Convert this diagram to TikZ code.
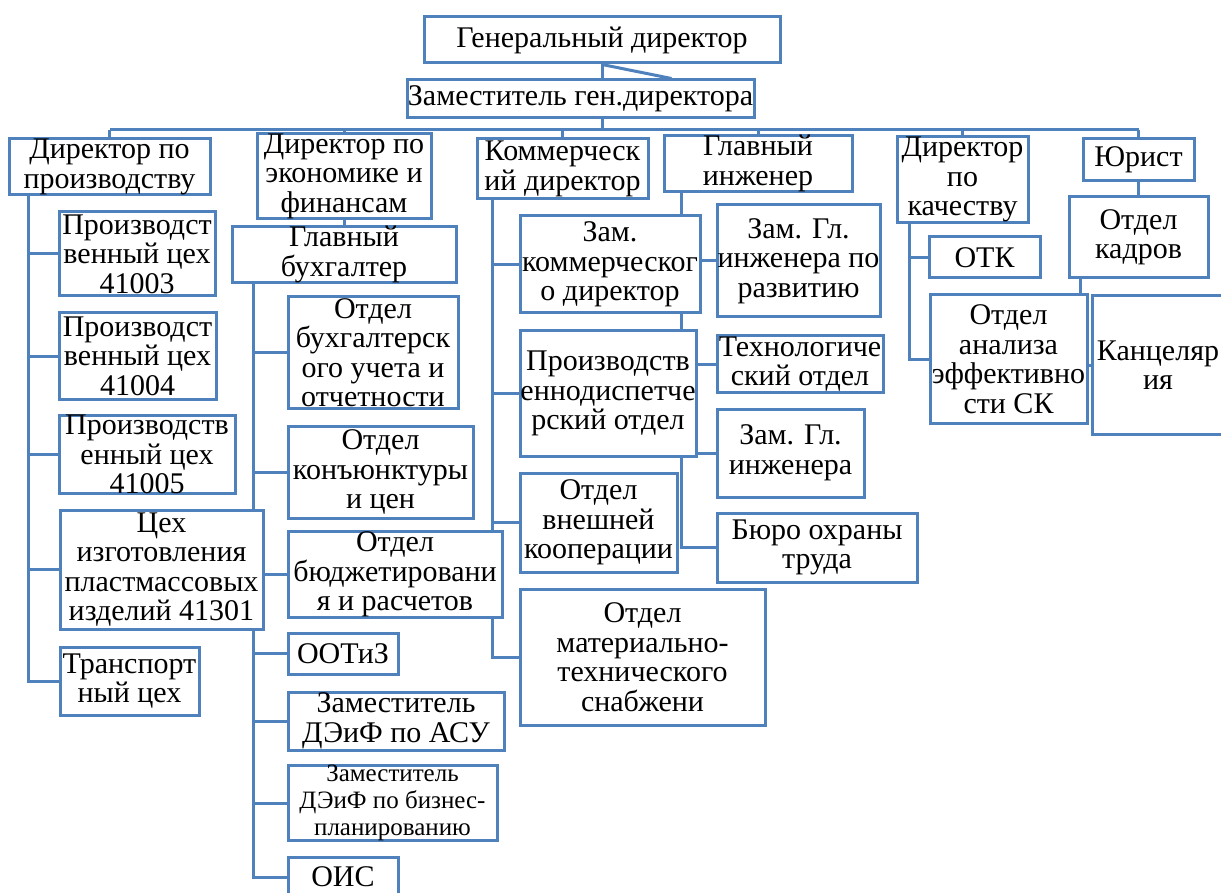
\documentclass[tikz,border=0pt]{standalone}
\usepackage{fontspec}
\setmainfont{Liberation Serif}
\usetikzlibrary{backgrounds}
\definecolor{orgblue}{RGB}{79,129,189}
\tikzset{
  unit/.style={draw=orgblue, line width=3pt, fill=white, inner sep=0pt,
    align=center, font=\rmfamily\fontsize{30}{29.5}\selectfont},
  link/.style={draw=orgblue, line width=3pt}
}
\begin{document}
\begin{tikzpicture}[x=1pt,y=-1pt]
  \useasboundingbox (0,0) rectangle (1221,893);
  \node[unit, minimum width=356, minimum height=46] (gd) at (602,40) {Генеральный директор};
  \node[unit, minimum width=347, minimum height=38] (zam) at (580.5,99) {Заместитель ген.директора};
  \node[unit, minimum width=201, minimum height=56] (dp) at (109.5,167) {Директор по\\производству};
  \node[unit, minimum width=174, minimum height=74] (def) at (344,176) {Директор по\\экономике и\\финансам};
  \node[unit, minimum width=171, minimum height=60] (kd) at (562.5,169) {Коммерческ\\ий директор};
  \node[unit, minimum width=188, minimum height=49] (gi) at (758,163.5) {Главный\\инженер};
  \node[unit, minimum width=131, minimum height=81] (dk) at (962.5,179.5) {Директор\\по\\качеству};
  \node[unit, minimum width=111, minimum height=42] (yu) at (1138.5,160) {Юрист};
  \node[unit, minimum width=156, minimum height=84] (c41003) at (137,254) {Производст\\венный цех\\41003};
  \node[unit, minimum width=157, minimum height=86] (c41004) at (137.5,356) {Производст\\венный цех\\41004};
  \node[unit, minimum width=176, minimum height=77] (c41005) at (147,454.5) {Производств\\енный цех\\41005};
  \node[unit, minimum width=203, minimum height=119] (plast) at (161.5,569.5) {Цех\\изготовления\\пластмассовых\\изделий 41301};
  \node[unit, minimum width=139, minimum height=68] (trans) at (129.5,681) {Транспорт\\ный цех};
  \node[unit, minimum width=224, minimum height=49] (gb) at (344,254.5) {Главный\\бухгалтер};
  \node[unit, minimum width=170, minimum height=111] (buh) at (373,352.5) {Отдел\\бухгалтерск\\ого учета и\\отчетности};
  \node[unit, minimum width=185, minimum height=92] (konj) at (380.5,472) {Отдел\\конъюнктуры\\и цен};
  \node[unit, minimum width=214, minimum height=81] (budg) at (395,574.5) {Отдел\\бюджетировани\\я и расчетов};
  \node[unit, minimum width=110, minimum height=41] (ootiz) at (343,653.5) {ООТиЗ};
  \node[unit, minimum width=216, minimum height=58] (asu) at (396,721) {Заместитель\\ДЭиФ по АСУ};
  \node[unit, minimum width=209, minimum height=72, font=\rmfamily\fontsize{25}{27}\selectfont] (biz) at (392.5,803) {Заместитель\\ДЭиФ по бизнес-\\планированию};
  \node[unit, minimum width=110, minimum height=40] (ois) at (343,877) {ОИС};
  \node[unit, minimum width=180, minimum height=97] (zamk) at (610,264.5) {Зам.\\коммерческог\\о директор};
  \node[unit, minimum width=176, minimum height=125] (proizd) at (608,393.5) {Производств\\еннодиспетче\\рский отдел};
  \node[unit, minimum width=157, minimum height=99] (vnesh) at (598.5,522.5) {Отдел\\внешней\\кооперации};
  \node[unit, minimum width=245, minimum height=136] (mts) at (642.5,657) {Отдел\\материально-\\технического\\снабжени};
  \node[unit, minimum width=163, minimum height=112] (razv) at (798.5,261) {Зам. Гл.\\инженера по\\развитию};
  \node[unit, minimum width=166, minimum height=56] (tekh) at (800,364) {Технологиче\\ский отдел};
  \node[unit, minimum width=147, minimum height=88] (zamgi) at (790.5,453) {Зам. Гл.\\инженера};
  \node[unit, minimum width=200, minimum height=69] (buro) at (817,547.5) {Бюро охраны\\труда};
  \node[unit, minimum width=111, minimum height=41] (otk) at (984.5,257.5) {ОТК};
  \node[unit, minimum width=157, minimum height=128] (analiz) at (1008.5,359) {Отдел\\анализа\\эффективно\\сти СК};
  \node[unit, minimum width=139, minimum height=81] (okadr) at (1138.5,237.5) {Отдел\\кадров};
  \node[unit, minimum width=132, minimum height=138] (kanc) at (1158,365) {Канцеляр\\ия};
  \begin{scope}[on background layer]
  \begin{scope}[link]
    \coordinate (bus) at (0,130);
    \draw (gd.south) -- (gd.south |- zam.north);
    \draw (gd.south) -- ([xshift=91]zam.north);
    \draw (gd.south |- zam.south) -- (gd.south |- bus);
    \draw (dp.north |- bus) -- (yu.north |- bus);
    \foreach \n in {dp,def,kd,gi,dk,yu}
      \draw (\n.north) -- (\n.north |- bus);
    \draw (def.south) -- (gb.north);
    \draw (yu.south) -- (okadr.north);
    \foreach \n in {c41003,c41004,c41005,plast,trans}
      \draw ([xshift=21]dp.south west) |- (\n.west);
    \foreach \n in {buh,konj,budg,ootiz,asu,biz,ois}
      \draw ([xshift=23]gb.south west) |- (\n.west);
    \foreach \n in {zamk,proizd,vnesh,mts}
      \draw ([xshift=17]kd.south west) |- (\n.west);
    \foreach \n in {razv,tekh,zamgi,buro}
      \draw ([xshift=19]gi.south west) |- (\n.west);
    \foreach \n in {otk,analiz}
      \draw ([xshift=14]dk.south west) |- (\n.west);
    \draw ([xshift=13]okadr.south west) |- (kanc.west);
  \end{scope}
  \end{scope}
\end{tikzpicture}
\end{document}
